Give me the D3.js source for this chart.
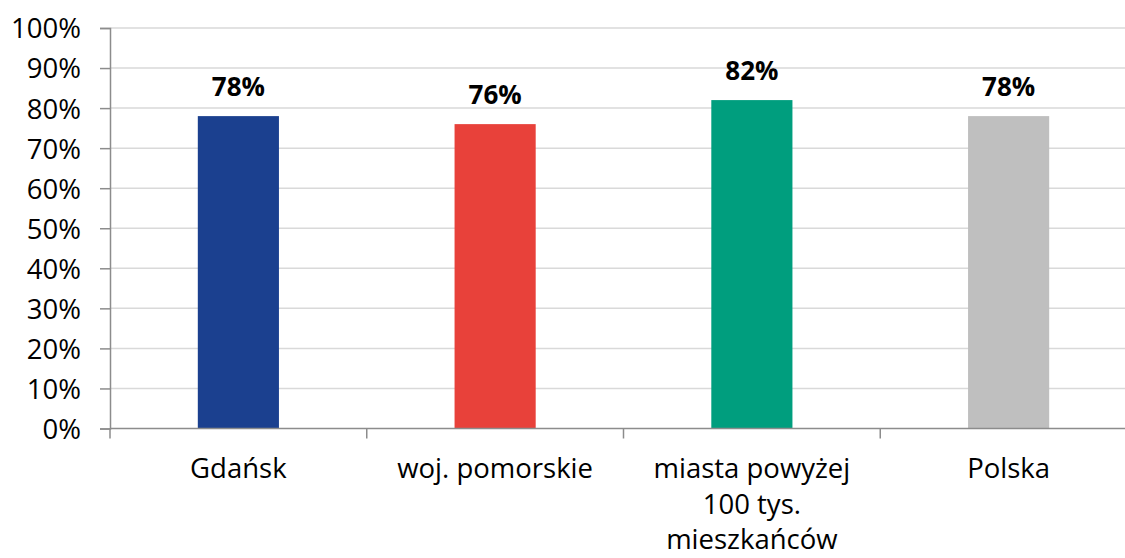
<!DOCTYPE html>
<html><head><meta charset="utf-8">
<script src="https://cdn.jsdelivr.net/npm/d3@7"></script>
<style>body{margin:0;background:#fff}svg{display:block}text{font-family:"Open Sans",Lato,sans-serif}</style>
</head><body>
<svg id="c" width="1125" height="558"></svg>
<script>
const categories = ["Gdańsk", "woj. pomorskie", "miasta powyżej 100 tys. mieszkańców", "Polska"];
const categoryLines = [["Gdańsk"], ["woj. pomorskie"], ["miasta powyżej", "100 tys.", "mieszkańców"], ["Polska"]];
const values = [0.78, 0.76, 0.82, 0.78];
const valueLabels = ["78%", "76%", "82%", "78%"];
const colors = ["#1b408f", "#e8413a", "#009e7e", "#bfbfbf"];
const yTicks = [0, 0.1, 0.2, 0.3, 0.4, 0.5, 0.6, 0.7, 0.8, 0.9, 1.0];

const svg = d3.select("#c");
const mLeft = 110, mRight = 1137, mTop = 28, mBottom = 428.5;
const FS = 27.5;
const x = d3.scaleBand().domain(categories).range([mLeft, mRight]).padding(0);
const y = d3.scaleLinear().domain([0, 1]).range([mBottom, mTop]);

// gridlines
svg.append("g").selectAll("line").data(yTicks.slice(1)).join("line")
  .attr("x1", mLeft).attr("x2", mRight).attr("y1", d => y(d)).attr("y2", d => y(d))
  .attr("stroke", "#d9d9d9").attr("stroke-width", 1.5);

// y axis
const yAxis = svg.append("g").attr("transform", `translate(${mLeft},0)`)
  .call(d3.axisLeft(y).tickValues(yTicks).tickFormat(d3.format(".0%")).tickSize(10).tickPadding(19));
yAxis.select(".domain").attr("stroke", "#8c8c8c").attr("stroke-width", 1.5);
yAxis.selectAll(".tick line").attr("stroke", "#8c8c8c").attr("stroke-width", 1.5);
yAxis.selectAll(".tick text").attr("font-size", FS).attr("fill", "#000").attr("font-family", "Open Sans").attr("dy", "0.36em");

// bars
const bw = x.bandwidth() * 0.316;
svg.append("g").selectAll("rect").data(categories).join("rect")
  .attr("x", d => x(d) + x.bandwidth() / 2 - bw / 2)
  .attr("width", bw)
  .attr("y", (d, i) => y(values[i]))
  .attr("height", (d, i) => y(0) - y(values[i]))
  .attr("fill", (d, i) => colors[i]);

// x axis
const xAxisG = svg.append("g");
xAxisG.append("line").attr("x1", mLeft).attr("x2", mRight).attr("y1", mBottom).attr("y2", mBottom)
  .attr("stroke", "#8c8c8c").attr("stroke-width", 1.5);
xAxisG.selectAll("line.t").data(categories).join("line").attr("class", "t")
  .attr("x1", d => x(d)).attr("x2", d => x(d)).attr("y1", mBottom).attr("y2", mBottom + 10)
  .attr("stroke", "#8c8c8c").attr("stroke-width", 1.5);

// category labels
const lab = svg.append("g").selectAll("text").data(categories).join("text")
  .attr("text-anchor", "middle").attr("font-size", FS).attr("fill", "#000");
lab.each(function(d, i) {
  d3.select(this).selectAll("tspan").data(categoryLines[i]).join("tspan")
    .attr("x", x(d) + x.bandwidth() / 2)
    .attr("y", (l, j) => 478 + j * 35.5)
    .text(l => l);
});

// value labels
svg.append("g").selectAll("text").data(categories).join("text")
  .attr("x", d => x(d) + x.bandwidth() / 2)
  .attr("y", (d, i) => y(values[i]) - 20)
  .attr("text-anchor", "middle").attr("font-size", 26).attr("font-weight", "bold").attr("fill", "#000")
  .text((d, i) => valueLabels[i]);
</script>
</body></html>
